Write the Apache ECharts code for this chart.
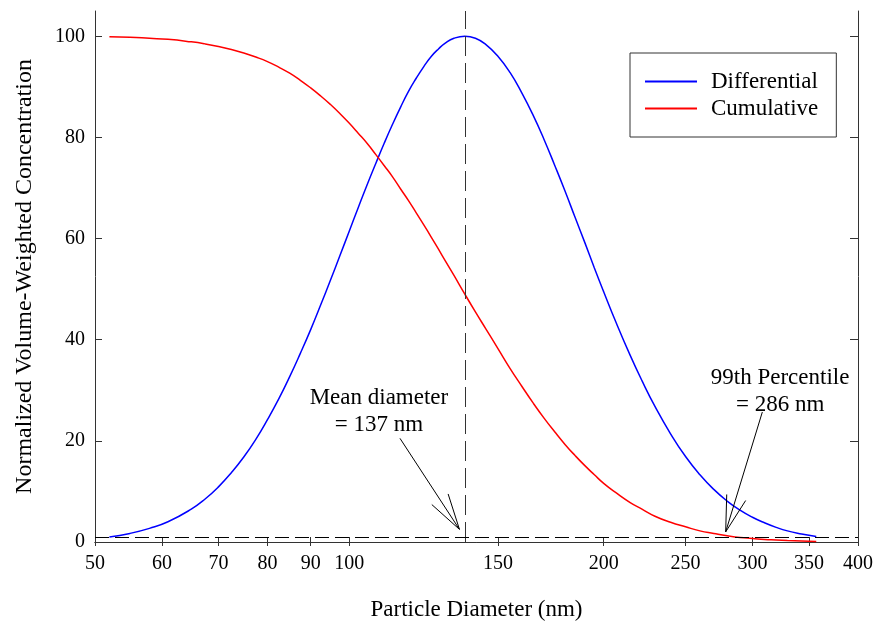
<!DOCTYPE html>
<html>
<head>
<meta charset="utf-8">
<script src="https://cdn.jsdelivr.net/npm/echarts@6/dist/echarts.min.js"></script>
<style>
  html, body { margin: 0; padding: 0; background: #fff; }
  #main { width: 877px; height: 626px; }
</style>
</head>
<body>
<div id="main"></div>
<script>
// particle diameters (nm)
var diam = [52, 55, 58, 61, 65, 67.5, 70, 72.5, 75, 77.5, 80, 82.5, 85, 87.5, 90, 92.5, 95, 97.5, 100, 102.5,
            105, 107.5, 110, 112.5, 115, 117.5, 120, 122.5, 125, 127.5, 130, 133, 137, 141, 145,
            150, 155, 160, 165, 170, 175, 180, 185, 190, 195, 200, 207, 215, 222, 230,
            240, 250, 260, 270, 280, 290, 300, 310, 320, 330, 343, 357];
var differential = [1.0, 1.7, 2.7, 4.0, 6.5, 8.5, 10.9, 13.7, 16.8, 20.3, 24.2, 28.3, 32.7, 37.3, 42.0, 46.9, 51.8, 56.7, 61.5, 66.2,
                    70.7, 74.9, 78.9, 82.6, 86.0, 89.1, 91.7, 94.0, 96.0, 97.5, 98.7, 99.6, 100, 99.6, 98.4,
                    96.0, 92.8, 88.8, 84.4, 79.6, 74.5, 69.4, 64.2, 59.2, 54.2, 49.5, 43.3, 36.9, 31.9, 26.8,
                    21.4, 16.9, 13.3, 10.4, 8.1, 6.3, 4.9, 3.8, 2.9, 2.2, 1.6, 1.1];
var cumulative = [99.9, 99.8, 99.6, 99.4, 98.9, 98.5, 98.0, 97.4, 96.7, 95.9, 95.0, 93.9, 92.7, 91.3, 89.8, 88.2, 86.5, 84.7, 82.8, 80.8,
                  78.8, 76.6, 74.4, 72.2, 69.8, 67.5, 65.1, 62.7, 60.3, 57.9, 55.5, 52.7, 49.0, 45.5, 42.2,
                  38.2, 34.3, 30.8, 27.5, 24.5, 21.8, 19.3, 17.1, 15.1, 13.3, 11.6, 9.7, 7.8, 6.5, 5.1,
                  3.9, 3.0, 2.2, 1.7, 1.25, 0.9, 0.7, 0.5, 0.4, 0.3, 0.2, 0.1];
var xTicks = [50, 60, 70, 80, 90, 100, 150, 200, 250, 300, 350, 400];
var yTicks = [0, 20, 40, 60, 80, 100];
var meanDiam = 137;
var pctLevel = 1;

var font = 'Liberation Serif';
var myChart = echarts.init(document.getElementById('main'));

function pairs(ys) {
  var out = [];
  for (var i = 0; i < diam.length; i++) out.push([diam[i], ys[i]]);
  return out;
}
function seg(a, b) {
  return [{ coord: a }, { coord: b }];
}

var xBase = {
  type: 'log', logBase: 10, min: 50, max: 400,
  axisLine: { show: true, lineStyle: { color: '#333', width: 1 } },
  splitLine: { show: false },
  minorTick: { show: false }
};
var yBase = {
  type: 'value', min: 0, max: 105,
  axisLine: { show: true, lineStyle: { color: '#333', width: 1 } },
  splitLine: { show: false }
};

var option = {
  animation: false,
  grid: { left: 95, right: 19, top: 11, bottom: 80 },
  legend: {
    data: ['Differential', 'Cumulative'],
    orient: 'vertical',
    left: 630, top: 53,
    padding: [17, 18, 17, 15],
    icon: 'rect',
    itemWidth: 52, itemHeight: 2, itemGap: 4,
    borderColor: '#333', borderWidth: 1,
    textStyle: { fontFamily: font, fontSize: 23, color: '#000', padding: [0, 0, 0, 9] }
  },
  xAxis: [
    Object.assign({}, xBase, {
      position: 'bottom',
      name: 'Particle Diameter (nm)', nameLocation: 'middle', nameGap: 56,
      nameTextStyle: { fontFamily: font, fontSize: 23, color: '#000' },
      axisTick: { show: true, inside: true, length: 5, customValues: xTicks, lineStyle: { color: '#333' } },
      axisLabel: { customValues: xTicks, margin: 12, fontFamily: font, fontSize: 20, color: '#000',
                   formatter: function (v) { return String(Math.round(v)); } }
    }),
    Object.assign({}, xBase, {
      position: 'top',
      axisTick: { show: true, inside: true, length: 4, customValues: xTicks, lineStyle: { color: '#333' } },
      axisLabel: { show: false, customValues: xTicks }
    })
  ],
  yAxis: [
    Object.assign({}, yBase, {
      position: 'left',
      name: 'Normalized Volume-Weighted Concentration', nameLocation: 'middle', nameGap: 58,
      nameTextStyle: { fontFamily: font, fontSize: 24, color: '#000' },
      axisTick: { show: true, inside: true, length: 7, customValues: yTicks, lineStyle: { color: '#333' } },
      axisLabel: { customValues: yTicks, margin: 10, fontFamily: font, fontSize: 20, color: '#000' }
    }),
    Object.assign({}, yBase, {
      position: 'right',
      axisTick: { show: true, inside: true, length: 8, customValues: yTicks, lineStyle: { color: '#333' } },
      axisLabel: { show: false, customValues: yTicks }
    })
  ],
  series: [
    {
      name: 'Differential', type: 'line', smooth: 0.5, symbol: 'none',
      data: pairs(differential),
      color: '#0000ff',
      lineStyle: { color: '#0000ff', width: 1.5 }
    },
    {
      name: 'Cumulative', type: 'line', smooth: 0.5, symbol: 'none',
      data: pairs(cumulative),
      color: '#ff0000',
      lineStyle: { color: '#ff0000', width: 1.5 }
    },
    {
      name: 'annot', type: 'line', data: [], silent: true,
      markLine: {
        silent: true, symbol: ['none', 'none'], label: { show: false },
        lineStyle: { color: '#000', width: 1, type: 'solid' },
        data: [
          // dashed guides
          { xAxis: meanDiam, lineStyle: { color: '#333', type: [20, 7] } },
          { yAxis: pctLevel, lineStyle: { color: '#000', type: [14, 6] } },
          // mean diameter arrow
          seg([114.8, 20.5], [135, 2.5]),
          seg([130.9, 9.5], [135, 2.5]),
          seg([125.2, 7.4], [135, 2.5]),
          // 99th percentile arrow
          seg([308.2, 25.7], [278.9, 2.0]),
          seg([279.7, 9.4], [278.9, 2.0]),
          seg([294.5, 8.2], [278.9, 2.0])
        ]
      },
      markPoint: {
        silent: true, symbol: 'circle', symbolSize: 1,
        itemStyle: { color: 'rgba(0,0,0,0)' },
        label: { show: true, position: 'inside', fontFamily: font, fontSize: 23, color: '#000', lineHeight: 27, align: 'center' },
        data: [
          { coord: [108.4, 25.8], value: 0, label: { formatter: 'Mean diameter\n= 137 nm' } },
          { coord: [323.5, 29.7], value: 0, label: { formatter: '99th Percentile\n= 286 nm' } }
        ]
      }
    }
  ]
};
myChart.setOption(option);
</script>
</body>
</html>
